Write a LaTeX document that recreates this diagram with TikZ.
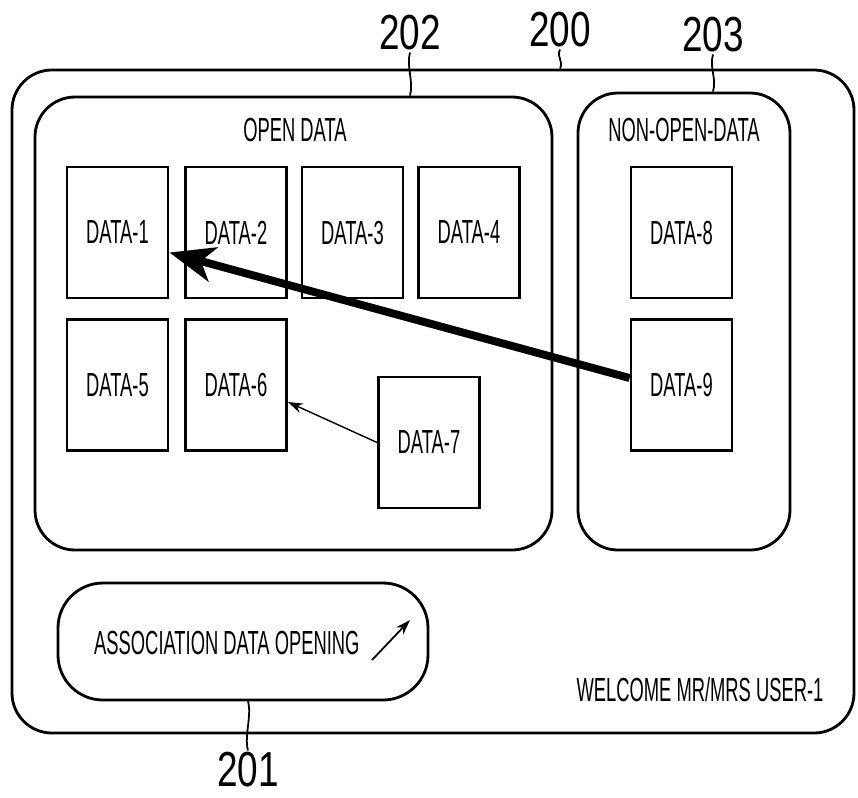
\documentclass[tikz,border=0pt]{standalone}
\usepackage{fontspec}
\setmainfont[FakeStretch=0.55]{Liberation Sans}
\newfontfamily\numfont[FakeStretch=0.75]{Liberation Sans}
\usetikzlibrary{arrows.meta,calc}

\begin{document}
\begin{tikzpicture}[x=0.2mm,y=-0.2mm,
  panel/.style={draw,line width=1.6pt,rounded corners=8mm,inner sep=0pt},
  databox/.style={draw,line width=1.6pt,minimum width=20.2mm,minimum height=26.2mm,
    font=\fontsize{19}{22}\selectfont},
  caption/.style={font=\fontsize{19}{22}\selectfont},
  numlabel/.style={inner sep=1pt,font=\numfont\fontsize{28}{32}\selectfont},
  leader/.style={line width=1pt}]
\useasboundingbox (0,0) rectangle (858,797);

% screen and its areas
\node[panel,minimum width=168.4mm,minimum height=132.6mm] (p200) at (433,401.5) {};
\node[panel,minimum width=103.4mm,minimum height=90.6mm] (p202) at (293.5,323.5) {};
\node[panel,minimum width=42.4mm,minimum height=91.4mm] (p203) at (684,321.5) {};
\node[panel,rounded corners=9mm,minimum width=74mm,minimum height=23.4mm] (p201) at (243,641.5) {};

\node[caption] (open) at (295,130) {OPEN DATA};
\node[caption] (nonopen) at (684,130) {NON-OPEN-DATA};

% data items
\node[databox] (d1) at (117.5,232.5) {DATA-1};
\node[databox] (d2) at (236,232.5) {DATA-2};
\node[databox] (d3) at (352.5,232.5) {DATA-3};
\node[databox] (d4) at (469,232.5) {DATA-4};
\node[databox] (d5) at (117.5,385) {DATA-5};
\node[databox] (d6) at (236,385) {DATA-6};
\node[databox] (d7) at (429,442.5) {DATA-7};
\node[databox] (d8) at (681.5,232.5) {DATA-8};
\node[databox] (d9) at (681.5,385) {DATA-9};

\draw[line width=4.5pt,-{Stealth[length=9mm,width=7mm,inset=2.5mm]}]
  ([yshift=1.4mm]d9.west) -- ([yshift=-4mm]d1.east);
\draw[line width=0.8pt,-{Stealth[length=3mm,width=2mm]}]
  (d7.west) -- ([yshift=-3.4mm]d6.east);

% button and greeting
\node[caption,anchor=west] (assoc) at (88,643) {ASSOCIATION DATA OPENING};
\coordinate (btail) at (372,660);
\coordinate (bhead) at (410,620);
\draw[line width=1pt,-{Stealth[length=3mm,width=2mm]}] (btail) -- (bhead);
\node[caption] (welcome) at (700,690) {WELCOME MR/MRS USER-1};

% reference numerals
\node[numlabel] (l202) at (410,33) {202};
\node[numlabel] (l200) at (560,30) {200};
\node[numlabel] (l203) at (713,35) {203};
\node[numlabel] (l201) at (248,770) {201};

\draw[leader] (l202.south) .. controls +(-4,14) and +(4,-14) .. (l202.south |- p202.north);
\draw[leader] (l200.south) .. controls +(-4,8) and +(4,-8) .. (l200.south |- p200.north);
\draw[leader] (l203.south) .. controls +(-4,14) and +(4,-14) .. (l203.south |- p203.north);
\draw[leader] (l201.north) .. controls +(-4,-14) and +(4,14) .. (l201.north |- p201.south);
\end{tikzpicture}
\end{document}
